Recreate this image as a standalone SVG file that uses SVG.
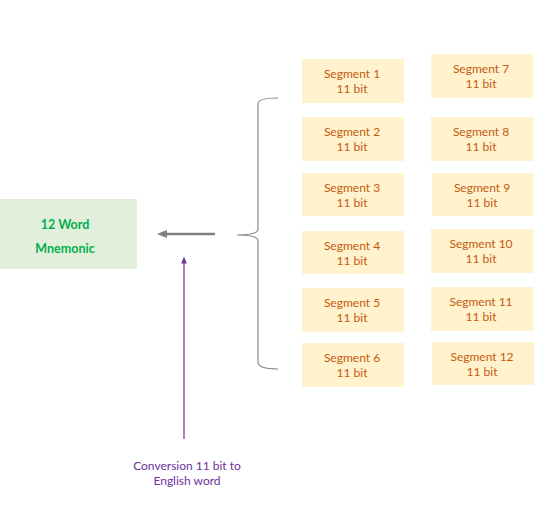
<svg xmlns="http://www.w3.org/2000/svg" width="547" height="519" viewBox="0 0 547 519">
<style>
.seg rect{fill:#FFF2CC}
.seg text{font-family:Lato,"Liberation Sans",sans-serif;font-size:12px;fill:#C55A11;text-anchor:middle}
.mn text{font-family:Lato,"Liberation Sans",sans-serif;font-size:12.5px;font-weight:bold;fill:#00B050;text-anchor:middle}
.lbl{font-family:Lato,"Liberation Sans",sans-serif;font-size:12px;fill:#7030A0;text-anchor:middle}
</style>
<defs>
<marker id="ag" viewBox="0 0 10 10" refX="5" refY="5" markerWidth="4" markerHeight="4" orient="auto"><path d="M0,1 L10,5 L0,9 z" fill="#7F7F7F"/></marker>
<marker id="ap" viewBox="0 0 10 10" refX="5" refY="5" markerWidth="6" markerHeight="6" orient="auto"><path d="M0,1 L10,5 L0,9 z" fill="#7030A0"/></marker>
</defs>
<rect width="547" height="519" fill="#fff"/>
<g id="mnemonic" class="mn">
<rect x="0" y="199" width="137" height="70" fill="#E2EFDA"/>
<text x="65" y="229">12 Word</text>
<text x="65" y="253">Mnemonic</text>
</g>
<g id="seg1" class="seg"><rect x="302" y="59" width="102" height="44"/><text x="352" y="78">Segment 1</text><text x="352" y="93">11 bit</text></g>
<g id="seg2" class="seg"><rect x="302" y="117" width="102" height="44"/><text x="352" y="136">Segment 2</text><text x="352" y="151">11 bit</text></g>
<g id="seg3" class="seg"><rect x="302" y="173" width="102" height="43"/><text x="352" y="192">Segment 3</text><text x="352" y="207">11 bit</text></g>
<g id="seg4" class="seg"><rect x="302" y="231" width="102" height="43"/><text x="352" y="250">Segment 4</text><text x="352" y="265">11 bit</text></g>
<g id="seg5" class="seg"><rect x="302" y="288" width="102" height="44"/><text x="352" y="307">Segment 5</text><text x="352" y="322">11 bit</text></g>
<g id="seg6" class="seg"><rect x="302" y="343" width="102" height="44"/><text x="352" y="362">Segment 6</text><text x="352" y="377">11 bit</text></g>
<g id="seg7" class="seg"><rect x="431" y="54" width="102" height="44"/><text x="481" y="73">Segment 7</text><text x="481" y="88">11 bit</text></g>
<g id="seg8" class="seg"><rect x="431" y="117" width="102" height="44"/><text x="481" y="136">Segment 8</text><text x="481" y="151">11 bit</text></g>
<g id="seg9" class="seg"><rect x="432" y="173" width="101" height="43"/><text x="482" y="192">Segment 9</text><text x="482" y="207">11 bit</text></g>
<g id="seg10" class="seg"><rect x="431" y="229" width="102" height="44"/><text x="481" y="248">Segment 10</text><text x="481" y="263">11 bit</text></g>
<g id="seg11" class="seg"><rect x="431" y="287" width="102" height="44"/><text x="481" y="306">Segment 11</text><text x="481" y="321">11 bit</text></g>
<g id="seg12" class="seg"><rect x="432" y="342" width="102" height="43"/><text x="482" y="361">Segment 12</text><text x="482" y="376">11 bit</text></g>
<g id="connectors">
<path d="M278,98 Q258,98 258,104 L258,229 Q258,235 237,235 Q258,235 258,241 L258,362 Q258,369 278,369" fill="none" stroke="#8C8C8C" stroke-width="1.2"/>
<line x1="215" y1="234" x2="162" y2="234" stroke="#7F7F7F" stroke-width="2.5" marker-end="url(#ag)"/>
<line x1="184" y1="439" x2="184" y2="260" stroke="#7030A0" stroke-width="1.2" marker-end="url(#ap)"/>
<text class="lbl" x="187" y="470">Conversion 11 bit to</text>
<text class="lbl" x="187" y="485">English word</text>
</g>
</svg>
